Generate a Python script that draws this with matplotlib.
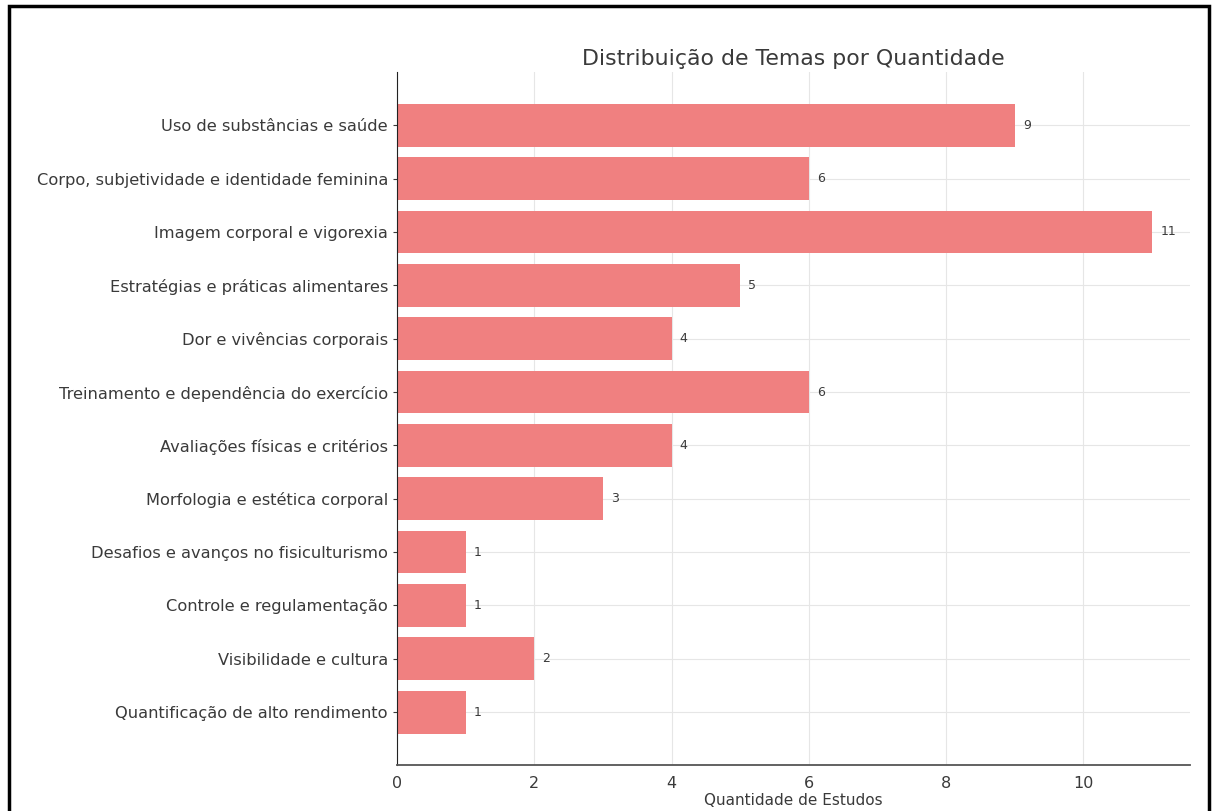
import matplotlib.pyplot as plt
from matplotlib.patches import Rectangle

# Chart data (top to bottom as shown)
temas = [
    'Uso de substâncias e saúde',
    'Corpo, subjetividade e identidade feminina',
    'Imagem corporal e vigorexia',
    'Estratégias e práticas alimentares',
    'Dor e vivências corporais',
    'Treinamento e dependência do exercício',
    'Avaliações físicas e critérios',
    'Morfologia e estética corporal',
    'Desafios e avanços no fisiculturismo',
    'Controle e regulamentação',
    'Visibilidade e cultura',
    'Quantificação de alto rendimento',
]
quantidades = [9, 6, 11, 5, 4, 6, 4, 3, 1, 1, 2, 1]

text_color = '#3a3a3a'

fig = plt.figure(figsize=(12.14, 8.11), dpi=100)
ax = fig.add_axes([0.327, 0.0567, 0.653, 0.854])

bars = ax.barh(temas, quantidades, height=0.8, color='#F08080', zorder=2)
ax.invert_yaxis()
ax.bar_label(bars, padding=6, fontsize=9, color=text_color)

ax.set_title('Distribuição de Temas por Quantidade', fontsize=15.8, color=text_color, pad=5)
ax.set_xlabel('Quantidade de Estudos', fontsize=11, color=text_color, labelpad=1)
ax.tick_params(axis='y', labelsize=11.7, colors=text_color, length=3)
ax.tick_params(axis='x', labelsize=11.5, colors=text_color, length=0, pad=8)

ax.grid(True, color='#e6e6e6', linewidth=0.8, zorder=0)
ax.set_axisbelow(True)
ax.spines['top'].set_visible(False)
ax.spines['right'].set_visible(False)
ax.spines['left'].set_color('#222222')
ax.spines['bottom'].set_color('#555555')
ax.spines['bottom'].set_linewidth(1.3)

# outer black frame of the screenshot
fig.patches.append(Rectangle((0.0075, -0.02), 0.988, 1.0126, transform=fig.transFigure,
                             fill=False, edgecolor='black', linewidth=2.5))

fig.savefig('out.png', dpi=100)
